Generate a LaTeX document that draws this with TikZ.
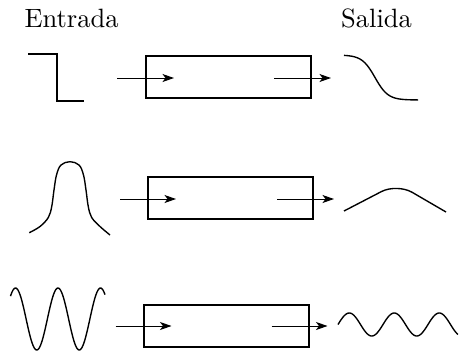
\documentclass[tikz,border=0pt]{standalone}
\usetikzlibrary{arrows.meta,calc}

\begin{document}
\begin{tikzpicture}[x=0.4pt,y=-0.4pt,
    titulo/.style={anchor=base,font=\fontsize{10.6}{12}\selectfont},
    caja/.style={draw,line width=0.8pt,minimum width=66pt,minimum height=16.8pt,inner sep=0pt},
    flecha/.style={line width=0.4pt,-{Stealth[length=4.6pt,width=3.2pt,inset=1.2pt]}},
    senal/.style={line width=0.55pt}]
  \useasboundingbox (0,0) rectangle (459,354);

  \node[titulo] (entrada) at (71.5,27) {Entrada};
  \node[titulo] (salida) at (376.5,27) {Salida};

  % escalon -> sigmoide
  \node[caja] (caja1) at (228.5,77) {};
  \draw[senal] (28,54) -- (57,54) -- (57,101) -- (84,101);
  \draw[flecha] ($(caja1.west)+(-28,1)$) coordinate (e1) -- ($(caja1.west)+(29,1)$) coordinate (f1);
  \draw[flecha] ($(caja1.east)+(-38,1)$) coordinate (e2) -- ($(caja1.east)+(19,1)$) coordinate (f2);
  \draw[senal] plot[domain=344:418,samples=60] (\x,{77.5+22.5*tanh((\x-375)/13)});

  % pulso -> pulso ensanchado
  \node[caja] (caja2) at (230.5,198) {};
  \draw[senal] plot[smooth,tension=0.6] coordinates {(29.3,232.7) (40,226.5) (48.3,217.5) (51.7,206.7)
    (54,190) (56.5,175) (61,165) (70,161.7) (79,165) (83.5,175) (86,190)
    (88.3,206.7) (91.7,217.5) (100,226.5) (110,235)};
  \draw[flecha] ($(caja2.west)+(-27,1)$) coordinate (e3) -- ($(caja2.west)+(29,1)$) coordinate (f3);
  \draw[flecha] ($(caja2.east)+(-37,1)$) coordinate (e4) -- ($(caja2.east)+(20,1)$) coordinate (f4);
  \draw[senal,rounded corners=7pt] (344,211) -- (397,183.5) -- (446,212);

  % oscilacion -> oscilacion atenuada
  \node[caja] (caja3) at (226,326) {};
  \draw[senal] plot[domain=10.5:105,samples=120] (\x,{319-31*cos(8.4706*(\x-15.5))});
  \draw[flecha] ($(caja3.west)+(-27,0)$) coordinate (e5) -- ($(caja3.west)+(29,0)$) coordinate (f5);
  \draw[flecha] ($(caja3.east)+(-38,0)$) coordinate (e6) -- ($(caja3.east)+(18,0)$) coordinate (f6);
  \draw[senal] plot[domain=338:458,samples=120] (\x,{324.5-11.5*sin(8*(\x-338))});
\end{tikzpicture}
\end{document}
